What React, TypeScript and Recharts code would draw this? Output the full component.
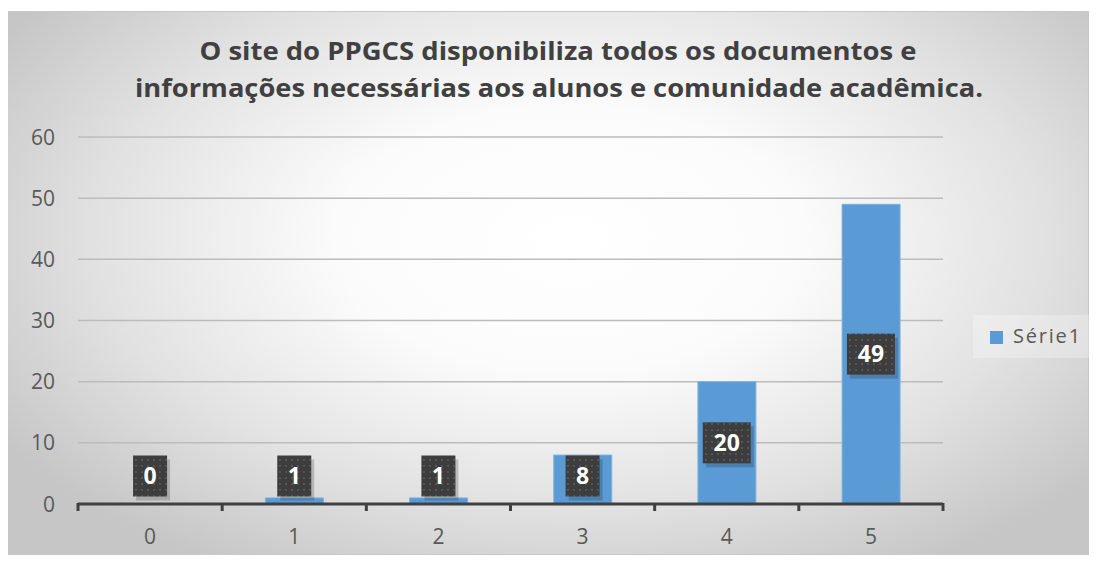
import React from "react";
import { ComposedChart, Bar, Line, XAxis, YAxis, CartesianGrid, Legend } from "recharts";

const categories = ["0", "1", "2", "3", "4", "5"];
const serie1 = [0, 1, 1, 8, 20, 49];
const yTicks = [0, 10, 20, 30, 40, 50, 60];
const seriesName = "Série1";
const titleLines = [
  "O site do PPGCS disponibiliza todos os documentos e",
  "informações necessárias aos alunos e comunidade acadêmica.",
];

const data = categories.map((c, i) => ({ cat: c, v: serie1[i] }));

const FONT = "'Open Sans', 'DejaVu Sans', sans-serif";
const TEXT = "#595959";
const DARK = "#404040";
const BLUE = "#5b9bd5";

const CHART_W = 1082;
const CHART_H = 553;
const MARGIN = { top: 129, right: 29, bottom: 7, left: 0 };
const X_AXIS_H = 50;
const BASE_Y = CHART_H - MARGIN.bottom - X_AXIS_H;

const XTick = (props: any) => {
  const { x, y, payload, index } = props;
  const half = payload && payload.offset ? payload.offset : 72;
  const axisY = BASE_Y;
  return (
    <g>
      <line x1={x - half} x2={x - half} y1={axisY - 1} y2={axisY + 7} stroke={DARK} strokeWidth={3} />
      {index === categories.length - 1 && (
        <line x1={x + half} x2={x + half} y1={axisY - 1} y2={axisY + 7} stroke={DARK} strokeWidth={3} />
      )}
      <text x={x} y={y} dy="0.71em" textAnchor="middle" fill={TEXT} fontSize={21} fontFamily={FONT}>
        {payload.value}
      </text>
    </g>
  );
};

const YTick = (props: any) => {
  const { x, y, payload } = props;
  return (
    <text x={x} y={y} dy="0.36em" textAnchor="end" fill={TEXT} fontSize={21} fontFamily={FONT}>
      {payload.value}
    </text>
  );
};

const LabelDot = (props: any) => {
  const { cx, cy, value, payload } = props;
  if (cx == null || cy == null) return null;
  const v = payload ? payload.v : value;
  const mid = (cy + BASE_Y) / 2;
  const cyy = Math.min(mid, BASE_Y - 28);
  const s = String(v);
  const bw = s.length > 1 ? 48 : 34;
  const bh = 41;
  return (
    <g>
      <rect x={cx - bw / 2 + 3} y={cyy - bh / 2 + 4} width={bw} height={bh} fill="#000" opacity={0.18} />
      <rect x={cx - bw / 2} y={cyy - bh / 2} width={bw} height={bh} fill="url(#dotPat)" />
      <text
        x={cx}
        y={cyy}
        dy="0.36em"
        textAnchor="middle"
        fill="#ffffff"
        fontWeight={700}
        fontSize={23}
        fontFamily={FONT}
      >
        {s}
      </text>
    </g>
  );
};

const LegendContent = () => (
  <div
    style={{
      width: 118,
      height: 43,
      background: "rgba(255,255,255,0.28)",
      position: "relative",
      fontFamily: FONT,
    }}
  >
    <div style={{ position: "absolute", left: 17, top: 16, width: 13, height: 13, background: BLUE }} />
    <div
      style={{
        position: "absolute",
        left: 40,
        top: 8,
        fontSize: 20,
        color: TEXT,
        letterSpacing: 1.8,
        lineHeight: "26px",
        whiteSpace: "nowrap",
      }}
    >
      {seriesName}
    </div>
  </div>
);

export default function App() {
  return (
    <div style={{ position: "relative", width: 1089, height: 553 }}>
      <div
        style={{
          position: "absolute",
          left: -1,
          top: 3,
          width: 1082,
          height: 544,
          border: "1px solid #c8c8c8",
          boxSizing: "border-box",
          background:
            "radial-gradient(ellipse 62% 70% at 52% 42%, #ffffff 0%, #fbfbfb 35%, #e2e2e2 70%, #c6c6c6 100%)",
        }}
      />
      <div style={{ position: "absolute", left: 0, top: 0 }}>
        <ComposedChart
          width={CHART_W}
          height={CHART_H}
          data={data}
          margin={MARGIN}
          barCategoryGap="30%"
        >
          <defs>
            <pattern id="dotPat" width="6" height="6" patternUnits="userSpaceOnUse">
              <rect width="6" height="6" fill="#3d3d3d" />
              <rect x="1" y="1" width="2" height="2" fill="#555555" />
            </pattern>
          </defs>
          <CartesianGrid vertical={false} stroke="#bcbcbc" strokeWidth={1.5} />
          <XAxis
            dataKey="cat"
            height={X_AXIS_H}
            axisLine={{ stroke: DARK, strokeWidth: 3 }}
            tickLine={false}
            tickSize={0}
            tickMargin={25}
            tick={<XTick />}
            interval={0}
          />
          <YAxis
            width={70}
            domain={[0, 60]}
            ticks={yTicks}
            axisLine={false}
            tickLine={false}
            tickSize={0}
            tickMargin={23}
            tick={<YTick />}
          />
          <Legend
            layout="horizontal"
            verticalAlign="middle"
            align="right"
            wrapperStyle={{ left: 965, top: 307, width: 118, height: 43 }}
            content={<LegendContent />}
          />
          <Bar dataKey="v" name={seriesName} fill={BLUE} stroke="#7fb2e0" strokeWidth={1} isAnimationActive={false} />
          <Line
            dataKey="v"
            stroke="none"
            legendType="none"
            dot={<LabelDot />}
            activeDot={false}
            isAnimationActive={false}
          />
        </ComposedChart>
      </div>
      <svg
        width={1082}
        height={120}
        style={{ position: "absolute", left: 0, top: 0, pointerEvents: "none" }}
      >
        <text
          x={550}
          y={52}
          textAnchor="middle"
          fontFamily={FONT}
          fontWeight={700}
          fontSize={25}
          fill={DARK}
          textLength={717}
          lengthAdjust="spacingAndGlyphs"
        >
          {titleLines[0]}
        </text>
        <text
          x={551}
          y={89}
          textAnchor="middle"
          fontFamily={FONT}
          fontWeight={700}
          fontSize={25}
          fill={DARK}
          textLength={848}
          lengthAdjust="spacingAndGlyphs"
        >
          {titleLines[1]}
        </text>
      </svg>
    </div>
  );
}
